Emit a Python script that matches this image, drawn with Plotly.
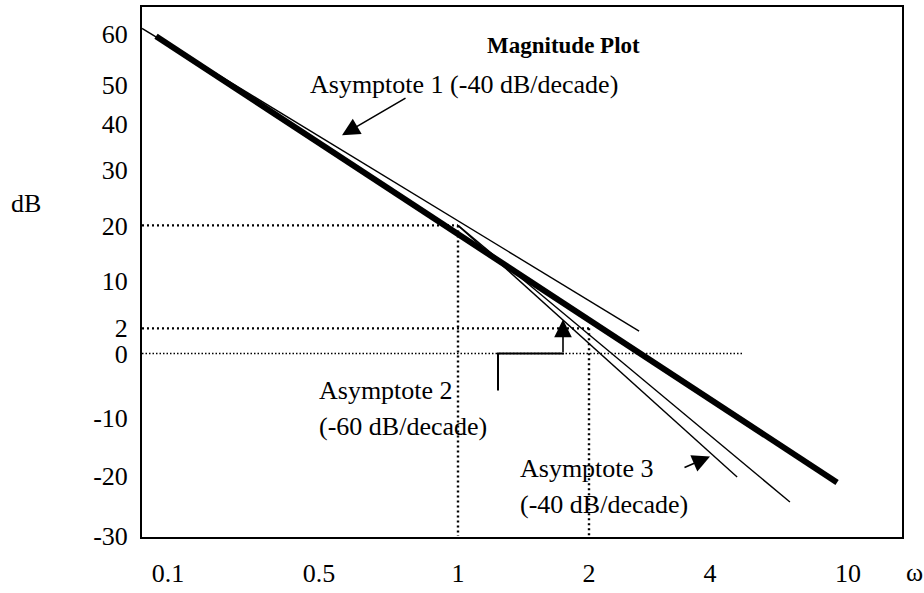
import numpy as np
import plotly.graph_objects as go

# ---- tick labels ----
omega_ticks = [0.1, 0.5, 1, 2, 4, 10]
db_ticks = [60, 50, 40, 30, 20, 10, 2, 0, -10, -20, -30]

# ---- curves: (omega, dB) end points ----
mag_omega = [0.088, 9.3]          # actual magnitude response (thick)
mag_db = [59.6, -21.1]
asym1_omega = [0.0758, 2.665]     # asymptote 1, -40 dB/decade
asym1_db = [61.15, 1.77]
asym2_omega = [1, 4.79]           # asymptote 2, -60 dB/decade
asym2_db = [20, -20.2]
asym3_omega = [1, 6.8]            # asymptote 3, -40 dB/decade
asym3_db = [20, -24.35]

# ---- reference (dotted) guides ----
corner_omega = [1, 2]
corner_db = [20, 2]
zero_line_end_omega = 4.98
omega_min = 0.0758
db_min = -30

# ---- axis layout: where each tick sits along the (hand-spaced) axes ----
X_LEN, Y_LEN = 760, 546
omega_tick_pos = [26, 177, 316, 447, 568, 706]
db_tick_pos = [518, 466, 426, 378, 321, 264, 215, 189, 123, 63, 1]


def _warp(v, knots, pos):
    """Piecewise-linear map from value to axis position, extrapolated at the ends."""
    order = np.argsort(knots)
    k = np.asarray(knots, float)[order]
    p = np.asarray(pos, float)[order]
    v = np.atleast_1d(np.asarray(v, float))
    out = np.interp(v, k, p)
    lo, hi = v < k[0], v > k[-1]
    out[lo] = p[0] + (v[lo] - k[0]) * (p[1] - p[0]) / (k[1] - k[0])
    out[hi] = p[-1] + (v[hi] - k[-1]) * (p[-1] - p[-2]) / (k[-1] - k[-2])
    return out


def wx(omega):
    return _warp(np.log10(omega), np.log10(omega_ticks), omega_tick_pos)


def wy(db):
    return _warp(db, db_ticks, db_tick_pos)


FONT = "Liberation Serif"
FS = 26
fig = go.Figure()


def line(om, db, width, dash=None):
    fig.add_trace(go.Scatter(
        x=wx(om), y=wy(db), mode="lines", hoverinfo="skip", showlegend=False,
        line=dict(color="black", width=width, dash=dash)))


# dotted guides
line([omega_min, corner_omega[0]], [corner_db[0], corner_db[0]], 2.2, "2px,3px")
line([omega_min, corner_omega[1]], [corner_db[1], corner_db[1]], 2.2, "2px,3px")
line([omega_min, zero_line_end_omega], [0, 0], 1.5, "1.5px,2px")
line([corner_omega[0]] * 2, [corner_db[0], db_min], 2.4, "2px,3px")
line([corner_omega[1]] * 2, [corner_db[1], db_min], 2.4, "2px,3px")

# asymptotes
line(asym1_omega, asym1_db, 1.4)
line(asym2_omega, asym2_db, 1.4)
line(asym3_omega, asym3_db, 1.4)

# magnitude
line(mag_omega, mag_db, 6)


def ax_pt(px, py):
    """Page-pixel position inside the frame -> axis units."""
    return px - 142, 551 - py


annotations = []


def text(s, px, py, size=FS, anchor="left"):
    x, y = ax_pt(px, py)
    annotations.append(dict(x=x, y=y, xref="x", yref="y", text=s, showarrow=False,
                            xanchor=anchor, yanchor="middle",
                            font=dict(family=FONT, size=size, color="black")))


def arrow(tail, tip):
    x, y = ax_pt(*tip)
    ax, ay = ax_pt(*tail)
    annotations.append(dict(x=x, y=y, ax=ax, ay=ay, xref="x", yref="y",
                            axref="x", ayref="y", text="", showarrow=True,
                            arrowhead=2, arrowsize=2.2, arrowwidth=1.6,
                            arrowcolor="black"))


text("<b>Magnitude Plot</b>", 485, 45, size=23)
text("Asymptote 1 (-40 dB/decade)", 308, 85)
text("Asymptote 2", 317, 400)
text("(-60 dB/decade)", 317, 437)
text("Asymptote 3", 518, 480)
text("(-40 dB/decade)", 518, 517)

arrow((407, 98), (342, 137))
arrow((563, 362), (563, 327))
arrow((683, 480), (710, 468))

# leader of the asymptote 2 arrow
p = [ax_pt(498, 400), ax_pt(498, 362), ax_pt(564, 362)]
path = "M {} {} L {} {} L {} {}".format(*[c for pt in p for c in pt])
shapes = [dict(type="path", path=path, xref="x", yref="y",
               line=dict(color="black", width=2))]

fig.update_layout(
    width=924, height=593,
    margin=dict(l=142, r=22, t=5, b=42),
    paper_bgcolor="white", plot_bgcolor="white",
    font=dict(family=FONT, size=FS, color="black"),
    xaxis=dict(range=[0, X_LEN], tickvals=omega_tick_pos,
               ticktext=[f"{v:g}" for v in omega_ticks],
               showgrid=False, zeroline=False, ticks="",
               showline=True, mirror=True, linecolor="black", linewidth=2,
               ticklabelstandoff=12, fixedrange=True),
    yaxis=dict(range=[0, Y_LEN], tickvals=db_tick_pos,
               ticktext=[f"{v:g}" for v in db_ticks],
               showgrid=False, zeroline=False, ticks="",
               showline=True, mirror=True, linecolor="black", linewidth=2,
               ticklabelstandoff=7, fixedrange=True),
    annotations=annotations
    + [dict(x=26, y=207, xref="paper", yref="paper", text="dB", showarrow=False,
            xanchor="center", yanchor="middle",
            font=dict(family=FONT, size=FS, color="black")),
       dict(x=914, y=588, xref="paper", yref="paper", text="ω", showarrow=False,
            xanchor="center", yanchor="middle",
            font=dict(family=FONT, size=FS, color="black"))],
    shapes=shapes,
    showlegend=False,
)

# the two free labels sit in page-pixel terms outside the frame
for a in fig.layout.annotations:
    if a.text in ("dB", "ω"):
        a.x = (a.x - 142) / X_LEN
        a.y = (551 - a.y) / Y_LEN

fig.write_html("out.html")
